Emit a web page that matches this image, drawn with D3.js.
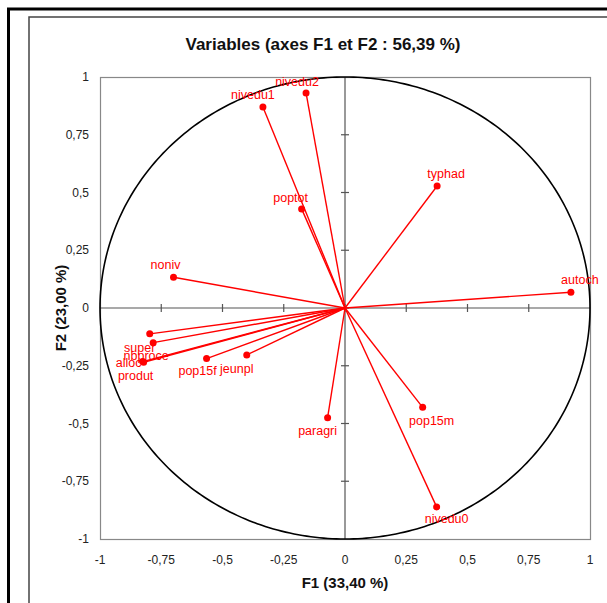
<!DOCTYPE html>
<html>
<head>
<meta charset="utf-8">
<script src="https://cdn.jsdelivr.net/npm/d3@7"></script>
<style>
  html, body { margin: 0; padding: 0; background: #fff; }
  svg { display: block; font-family: "Liberation Sans", Arial, sans-serif; }
</style>
</head>
<body>
<div id="chart"></div>
<script>
// 变量 (F1 / F2 坐标)
const varNames = ["nivedu2", "nivedu1", "typhad", "poptot", "autoch", "noniv", "super", "nbproce", "alloc", "produt", "pop15f", "jeunpl", "paragri", "pop15m", "nivedu0"]
const f1Values = [-0.159, -0.335, 0.376, -0.177, 0.922, -0.700, -0.797, -0.783, -0.826, -0.822, -0.565, -0.401, -0.071, 0.317, 0.374]
const f2Values = [0.931, 0.870, 0.528, 0.429, 0.068, 0.133, -0.112, -0.150, -0.232, -0.235, -0.219, -0.203, -0.475, -0.430, -0.861]
const tickValues = [-1, -0.75, -0.5, -0.25, 0, 0.25, 0.5, 0.75, 1]

const title = "Variables (axes F1 et F2 : 56,39 %)"
const xLabel = "F1 (33,40 %)"
const yLabel = "F2 (23,00 %)"

// label placement relative to the point (dx, dy in px)
const labelShift = {
  nivedu2: [-9, -7], nivedu1: [-10, -8], typhad: [9, -8], poptot: [-11, -7],
  autoch: [9, -8], noniv: [-8, -8], super: [-10, 18], nbproce: [-7, 17],
  alloc: [-14, 5], produt: [-8, 18], pop15f: [-9, 16], jeunpl: [-10, 18],
  paragri: [-10, 17], pop15m: [9, 18], nivedu0: [10, 16]
}

const width = 607
const height = 603
const marginLeft = 100
const marginRight = 17
const marginTop = 77
const marginBottom = 64
const red = "#ff0000"
const fmt = d => String(d).replace(".", ",")

const data = varNames.map((name, i) => ({ name, x: f1Values[i], y: f2Values[i] }))

const xScale = d3.scaleLinear([-1, 1], [marginLeft, width - marginRight])
const yScale = d3.scaleLinear([-1, 1], [height - marginBottom, marginTop])

const svg = d3.select("#chart")
  .append("svg")
  .attr("width", width)
  .attr("height", height)
  .attr("viewBox", [0, 0, width, height])

// outer frames
svg.append("path")
  .attr("d", `M8.5,${height} V9 H${width}`)
  .attr("fill", "none").attr("stroke", "#000").attr("stroke-width", 3)
svg.append("path")
  .attr("d", `M29,${height} V17 H${width}`)
  .attr("fill", "none").attr("stroke", "#444").attr("stroke-width", 1.5)

// title
svg.append("text")
  .attr("x", 323)
  .attr("y", 50)
  .attr("text-anchor", "middle")
  .attr("font-size", 17)
  .attr("font-weight", "bold")
  .attr("fill", "#111")
  .text(title)

// plot frame
svg.append("rect")
  .attr("x", xScale(-1) + 0.5)
  .attr("y", yScale(1) + 0.5)
  .attr("width", xScale(1) - xScale(-1))
  .attr("height", yScale(-1) - yScale(1))
  .attr("fill", "none")
  .attr("stroke", "#888")
  .attr("stroke-width", 1.2)

// axes through the origin
const axisG = svg.append("g").attr("stroke", "#555").attr("stroke-width", 1.2)
axisG.append("line")
  .attr("x1", xScale(-1)).attr("x2", xScale(1))
  .attr("y1", yScale(0)).attr("y2", yScale(0))
axisG.append("line")
  .attr("x1", xScale(0)).attr("x2", xScale(0))
  .attr("y1", yScale(1)).attr("y2", yScale(-1))
// cross ticks
axisG.selectAll(".xt").data(tickValues.filter(d => Math.abs(d) < 1)).join("line")
  .attr("x1", d => xScale(d)).attr("x2", d => xScale(d))
  .attr("y1", yScale(0) - 4).attr("y2", yScale(0) + 4)
axisG.selectAll(".yt").data(tickValues.filter(d => Math.abs(d) < 1)).join("line")
  .attr("x1", xScale(0) - 4).attr("x2", xScale(0) + 4)
  .attr("y1", d => yScale(d)).attr("y2", d => yScale(d))

// tick labels
svg.append("g").selectAll("text").data(tickValues).join("text")
  .attr("x", d => xScale(d))
  .attr("y", yScale(-1) + 25)
  .attr("text-anchor", "middle")
  .attr("font-size", 12)
  .attr("fill", "#222")
  .text(fmt)
svg.append("g").selectAll("text").data(tickValues).join("text")
  .attr("x", xScale(-1) - 11)
  .attr("y", d => yScale(d) + 4)
  .attr("text-anchor", "end")
  .attr("font-size", 12)
  .attr("fill", "#222")
  .text(fmt)

// axis titles
svg.append("text")
  .attr("x", xScale(0))
  .attr("y", yScale(-1) + 49)
  .attr("text-anchor", "middle")
  .attr("font-size", 15)
  .attr("font-weight", "bold")
  .attr("fill", "#111")
  .text(xLabel)
svg.append("text")
  .attr("transform", `translate(66,${yScale(0)}) rotate(-90)`)
  .attr("text-anchor", "middle")
  .attr("font-size", 15)
  .attr("font-weight", "bold")
  .attr("fill", "#111")
  .text(yLabel)

// correlation circle
const circle = d3.range(0, 361).map(a => [Math.cos(a * Math.PI / 180), Math.sin(a * Math.PI / 180)])
svg.append("path")
  .datum(circle)
  .attr("d", d3.line().x(d => xScale(d[0])).y(d => yScale(d[1])))
  .attr("fill", "none")
  .attr("stroke", "#000")
  .attr("stroke-width", 1.6)

// vectors
const vg = svg.append("g")
vg.selectAll("line").data(data).join("line")
  .attr("x1", xScale(0)).attr("y1", yScale(0))
  .attr("x2", d => xScale(d.x)).attr("y2", d => yScale(d.y))
  .attr("stroke", red)
  .attr("stroke-width", 1.4)
vg.selectAll("circle").data(data).join("circle")
  .attr("cx", d => xScale(d.x))
  .attr("cy", d => yScale(d.y))
  .attr("r", 3.5)
  .attr("fill", red)
vg.selectAll("text").data(data).join("text")
  .attr("x", d => xScale(d.x) + labelShift[d.name][0])
  .attr("y", d => yScale(d.y) + labelShift[d.name][1])
  .attr("text-anchor", "middle")
  .attr("font-size", 12.5)
  .attr("fill", red)
  .text(d => d.name)
</script>
</body>
</html>
